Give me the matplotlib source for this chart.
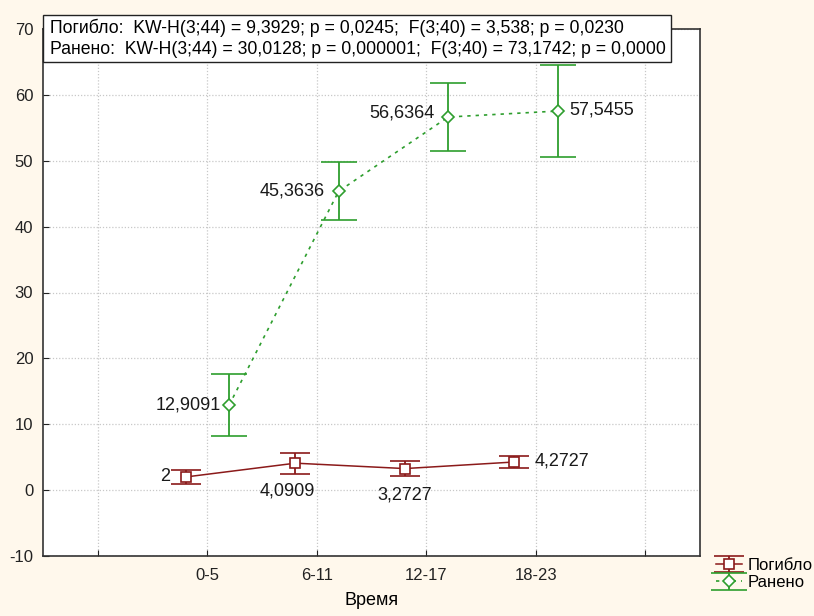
import matplotlib
matplotlib.use("Agg")
import matplotlib.pyplot as plt
from matplotlib.patches import Rectangle

plt.rcParams['font.family'] = ['Liberation Sans', 'DejaVu Sans']
plt.rcParams['axes.unicode_minus'] = False

categories = ["0-5", "6-11", "12-17", "18-23"]
killed_mean = [2.0, 4.0909, 3.2727, 4.2727]
killed_err = [1.05, 1.6, 1.1, 0.95]
wounded_mean = [12.9091, 45.3636, 56.6364, 57.5455]
wounded_err = [4.7, 4.4, 5.2, 7.0]
killed_labels = ["2", "4,0909", "3,2727", "4,2727"]
wounded_labels = ["12,9091", "45,3636", "56,6364", "57,5455"]
stat_lines = [
    "Погибло:  KW-H(3;44) = 9,3929; p = 0,0245;  F(3;40) = 3,538; p = 0,0230",
    "Ранено:  KW-H(3;44) = 30,0128; p = 0,000001;  F(3;40) = 73,1742; p = 0,0000",
]
series_names = ["Погибло", "Ранено"]
xlabel = "Время"

red = '#8B1A1A'
green = '#2E9E2E'
bg = '#FFF8EC'

fig = plt.figure(figsize=(8.14, 6.16), dpi=100, facecolor=bg)
ax = fig.add_axes([43/814, 1-556/616, (700-43)/814, (556-29)/616])
ax.set_facecolor('white')

pos = [i + 1 for i in range(len(categories))]
xk = [p - 0.195 for p in pos]
xw = [p + 0.2 for p in pos]

ek = ax.errorbar(xk, killed_mean, yerr=killed_err, color=red, lw=1.1,
                 marker='s', ms=7, mfc='white', mec=red, mew=1.2,
                 capsize=11, capthick=1.5, elinewidth=1.3, label=series_names[0], zorder=3)
ew = ax.errorbar(xw, wounded_mean, yerr=wounded_err, color=green, lw=1.2,
                 ls=(0, (2, 3)), marker='D', ms=6, mfc='white', mec=green, mew=1.2,
                 capsize=13, capthick=1.5, elinewidth=1.3, label=series_names[1], zorder=3)

# data labels
k_off = [(-16, 0, 'right', 'center'), (-8, -28, 'center', 'center'),
         (0, -26, 'center', 'center'), (20, 1, 'left', 'center')]
w_off = [(-8, 0, 'right', 'center'), (-14, 0, 'right', 'center'),
         (-14, 4, 'right', 'center'), (12, 1, 'left', 'center')]
for x, y, t, (dx, dy, ha, va) in zip(xk, killed_mean, killed_labels, k_off):
    ax.annotate(t, (x, y), xytext=(dx, dy), textcoords='offset pixels',
                ha=ha, va=va, fontsize=13, color='#1a1a1a', zorder=4)
for x, y, t, (dx, dy, ha, va) in zip(xw, wounded_mean, wounded_labels, w_off):
    ax.annotate(t, (x, y), xytext=(dx, dy), textcoords='offset pixels',
                ha=ha, va=va, fontsize=13, color='#1a1a1a', zorder=4)

ax.set_xlim(-0.5, 5.5)
ax.set_ylim(-10, 70)
ax.set_xticks([0, 1, 2, 3, 4, 5])
ax.set_xticklabels([""] + categories + [""])
ax.set_yticks(range(-10, 71, 10))
ax.tick_params(axis='both', direction='in', length=4, labelsize=12, colors='#222222')
ax.tick_params(axis='x', pad=9)
ax.tick_params(axis='y', pad=7)
ax.grid(True, color='#c8c8c8', ls=(0, (1, 1.5)), lw=0.9)
ax.set_axisbelow(True)
for s in ax.spines.values():
    s.set_color('#333333')
    s.set_linewidth(1.2)
ax.set_xlabel(xlabel, fontsize=13, labelpad=6)

# stats box
box = Rectangle((43/814, 1-62/616), (671-43)/814, (62-15)/616, transform=fig.transFigure,
                facecolor='white', edgecolor='#222222', lw=1.0, zorder=5)
fig.patches.append(box)
fig.text(50/814, 1-28/616, stat_lines[0], fontsize=12.7, va='center', ha='left', zorder=6)
fig.text(50/814, 1-49/616, stat_lines[1], fontsize=12.7, va='center', ha='left', zorder=6)

leg = fig.legend(handles=[ek, ew], labels=series_names, loc='upper left',
                 bbox_to_anchor=(704/814, 1-546/616), frameon=False, fontsize=12,
                 handlelength=1.6, handletextpad=0.3, labelspacing=0.15, borderpad=0.2)

fig.savefig('out.png', dpi=100, facecolor=bg)
